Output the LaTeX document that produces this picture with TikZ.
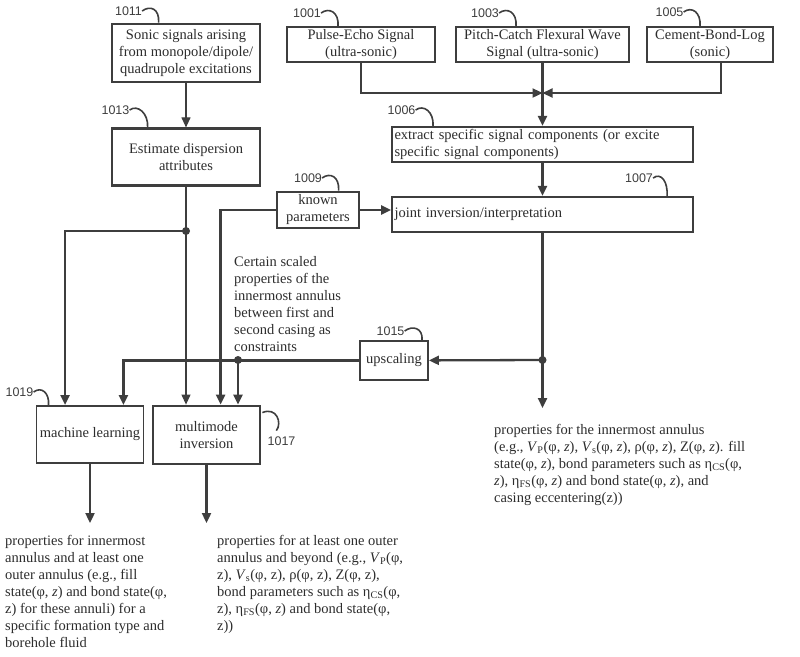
\documentclass[tikz,border=0pt]{standalone}
\usepackage{fontspec}
\setmainfont{Liberation Serif}
\newfontfamily\labelfont{Liberation Sans}
\usepackage{tikz}
\usetikzlibrary{arrows.meta, positioning, calc}
\definecolor{ink}{RGB}{62,62,62}
\definecolor{txt}{RGB}{45,45,45}
\newcommand{\bodyfont}{\fontsize{14.5}{17}\selectfont}
\tikzset{
  box/.style  ={rectangle, draw=ink, line width=1.9pt, fill=white, align=center,
                text=txt, font=\bodyfont, inner sep=1.5pt},
  boxk/.style ={box, line width=2.8pt},
  boxl/.style ={box, align=left},
  note/.style ={align=left, text=txt, font=\bodyfont, inner sep=0pt, anchor=north west},
  refno/.style={font=\labelfont\fontsize{12.5}{14}\selectfont, text=ink, inner sep=0pt},
  hook/.style ={draw=ink, line width=1.6pt},
  ln/.style   ={draw=ink, line width=2.3pt},
  ar/.style   ={-{Triangle[length=10pt,width=9pt]}, draw=ink, line width=2.3pt},
  art/.style  ={ar, line width=1.1pt},
  dot/.style  ={circle, fill=ink, inner sep=0pt, minimum size=8pt},
}
\begin{document}
\begin{tikzpicture}[x=1pt, y=-1pt]
\useasboundingbox (0,0) rectangle (800,656);
% signal sources
\node[boxk, minimum width=148pt, minimum height=58pt] (src) at (186,53) {Sonic signals arising\\from monopole/dipole/\\quadrupole excitations};
\node[boxk, minimum width=148pt, minimum height=57pt, below=44pt of src] (disp) {Estimate dispersion\\attributes};
\node[box, minimum width=148pt, minimum height=35pt] (pulse) at (361,44.5) {Pulse-Echo Signal\\(ultra-sonic)};
\node[box, minimum width=173pt, minimum height=35pt] (pitch) at (542.5,44.5) {Pitch-Catch Flexural Wave\\Signal (ultra-sonic)};
\node[box, minimum width=126pt, minimum height=35pt] (cbl) at (710,44.5) {Cement-Bond-Log\\(sonic)};
% processing
\node[boxl, minimum width=301pt, minimum height=35pt, text width=296pt, below=63pt of pitch] (extract) {extract specific signal components (or excite\\specific signal components)};
\node[boxl, minimum width=301pt, minimum height=35pt, text width=296pt, below=33pt of extract] (joint) {joint inversion/interpretation};
\node[boxk, minimum width=82pt, minimum height=36pt, inner sep=1pt] (known) at (318,210) {known\\parameters};
\node[box, minimum width=68pt, minimum height=39pt] (upsc) at (394,360.5) {upscaling};
\node[box, minimum width=107pt, minimum height=57pt] (ml) at (90,434.5) {machine learning};
\node[boxk, minimum width=107pt, minimum height=58pt] (mmi) at (206.5,435) {multimode\\inversion};
% junctions and free ends
\coordinate (merge) at (542.5,93);
\node[dot] (jdot) at (542.5,360) {};
\node[dot] (udot) at (238,360) {};
\node[dot] (ddot) at (186,231) {};
\coordinate (jout) at (542.5,408);
\coordinate (mlout) at (90,523);
\coordinate (mmout) at (206.5,523);
% reference numerals
\node[refno] (n1011) at (128.5,11) {1011};
\node[refno] (n1001) at (307,13) {1001};
\node[refno] (n1003) at (485,13) {1003};
\node[refno] (n1005) at (669.5,12) {1005};
\node[refno] (n1013) at (115.5,110) {1013};
\node[refno] (n1006) at (401.5,110) {1006};
\node[refno] (n1007) at (639,178) {1007};
\node[refno] (n1009) at (308,178) {1009};
\node[refno] (n1015) at (390.5,331) {1015};
\node[refno] (n1019) at (19.5,392) {1019};
\node[refno] (n1017) at (281.5,441) {1017};
\draw[hook] (n1011.east) .. controls +(8,-6) and +(1,-14) .. ($(src.north west)+(48,0)$);
\draw[hook] (n1001.east) .. controls +(8,-6) and +(1,-14) .. ($(pulse.north west)+(52,0)$);
\draw[hook] (n1003.east) .. controls +(8,-6) and +(1,-14) .. ($(pitch.north west)+(61,0)$);
\draw[hook] (n1005.east) .. controls +(8,-6) and +(1,-14) .. ($(cbl.north west)+(54,0)$);
\draw[hook] (n1013.east) .. controls +(8,-6) and +(1,-14) .. ($(disp.north west)+(37,0)$);
\draw[hook] (n1006.east) .. controls +(8,-6) and +(1,-14) .. ($(extract.north west)+(42,0)$);
\draw[hook] (n1007.east) .. controls +(8,-6) and +(1,-14) .. ($(joint.north west)+(276,0)$);
\draw[hook] (n1009.east) .. controls +(8,-6) and +(1,-14) .. ($(known.north west)+(63,0)$);
\draw[hook] (n1015.east) .. controls +(8,-6) and +(1,-12) .. ($(upsc.north west)+(63,0)$);
\draw[hook] (n1019.east) .. controls +(8,-6) and +(1,-12) .. ($(ml.north west)+(13,0)$);
\draw[hook] ($(mmi.north east)+(1,8)$) .. controls +(14,-6) and +(6,-8) .. ($(mmi.north east)+(15,26)$);
% connectors
\draw[ar] (pulse.south) |- (merge);
\draw[ar] ($(cbl.south)+(11,0)$) |- (merge);
\draw[ar] (pitch) -- (extract);
\draw[ar] (extract) -- (joint);
\draw[ar] (known.east) -- (known.east -| joint.west);
\draw[art] (src) -- (disp);
\draw[ln] (joint) -- (jdot.center);
\draw[ar] (jdot.center) -- (jout);
\draw[ar] (jdot.center) -- (upsc);
\draw[ar] (upsc.west) -| ($(ml.north east)+(-21,0)$);
\draw[ar] (udot.center) -- (udot |- mmi.north);
\draw[art] (disp.south) -- (disp.south |- mmi.north);
\draw[ar] (ddot.center) -| ($(ml.north west)+(29.5,0)$);
\draw[ar] (known.west) -| ($(mmi.north west)+(69,0)$);
\draw[ar] (ml) -- (mlout);
\draw[ar] (mmi) -- (mmout);
% texts
\node[note] (cons) at (234,256) {Certain scaled\\properties of the\\innermost annulus\\between first and\\second casing as\\constraints};
\node[note] (outr) at (494,424) {properties for the innermost annulus\\(e.g., \textit{V}\textsubscript{P}(φ, \textit{z}), \textit{V}\textsubscript{s}(φ, \textit{z}), ρ(φ, \textit{z}), Z(φ, \textit{z}). fill\\state(φ, \textit{z}), bond parameters such as η\textsubscript{CS}(φ,\\\textit{z}), η\textsubscript{FS}(φ, \textit{z}) and bond state(φ, \textit{z}), and\\casing eccentering(z))};
\node[note] (outl) at (5,535) {properties for innermost\\annulus and at least one\\outer annulus (e.g., fill\\state(φ, \textit{z}) and bond state(φ,\\z) for these annuli) for a\\specific formation type and\\borehole fluid};
\node[note] (outm) at (217,535) {properties for at least one outer\\annulus and beyond (e.g., \textit{V}\textsubscript{P}(φ,\\z), \textit{V}\textsubscript{s}(φ, z), ρ(φ, z), Z(φ, z),\\bond parameters such as η\textsubscript{CS}(φ,\\z), η\textsubscript{FS}(φ, \textit{z}) and bond state(φ,\\z))};
\end{tikzpicture}
\end{document}
